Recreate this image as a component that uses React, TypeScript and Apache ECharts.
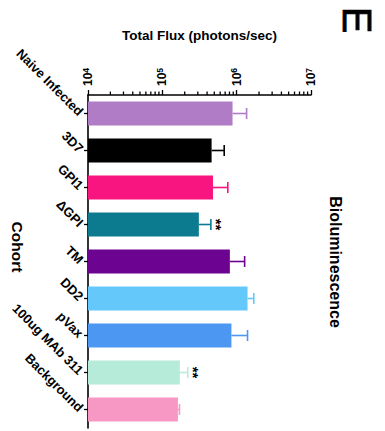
import React, { useEffect, useRef } from "react";
import * as echarts from "echarts";

const categories = [
  "Naive Infected",
  "3D7",
  "GPI1",
  "ΔGPI",
  "TM",
  "DD2",
  "pVax",
  "100ug MAb 311",
  "Background",
];
const meanFlux = [8.8e5, 4.6e5, 4.8e5, 3.1e5, 8.1e5, 1.4e6, 8.5e5, 1.72e5, 1.62e5];
const upperFlux = [1.36e6, 6.8e5, 7.6e5, 4.5e5, 1.28e6, 1.7e6, 1.4e6, 2.2e5, 1.7e5];
const significance = ["", "", "", "**", "", "", "", "**", ""];
const barColors = [
  "#B07CC6",
  "#000000",
  "#F8157F",
  "#0C7B8F",
  "#6C0391",
  "#64C8FB",
  "#4B97F2",
  "#B6EAD9",
  "#F798C4",
];
const minorTickValues = [
  2e4, 3e4, 4e4, 5e4, 6e4, 7e4, 8e4, 9e4,
  2e5, 3e5, 4e5, 5e5, 6e5, 7e5, 8e5, 9e5,
  2e6, 3e6, 4e6, 5e6, 6e6, 7e6, 8e6, 9e6,
];
const axisTitle = "Total Flux (photons/sec)";
const cohortLabel = "Cohort";
const sideLabel = "Bioluminescence";
const panelLetter = "E";

const FONT = "'Liberation Sans', Arial, Helvetica, sans-serif";

export default function App() {
  const ref = useRef<HTMLDivElement>(null);

  useEffect(() => {
    if (!ref.current) return;
    const chart = echarts.init(ref.current, null, { renderer: "svg" });
    const option: any = {
      animation: false,
      backgroundColor: "#ffffff",
      textStyle: { fontFamily: FONT },
      grid: { left: 88, top: 95, width: 223, height: 333, containLabel: false },
      xAxis: {
        type: "log",
        logBase: 10,
        min: 1e4,
        max: 1e7,
        position: "top",
        name: axisTitle,
        nameLocation: "middle",
        nameGap: 53,
        nameTextStyle: {
          fontFamily: FONT,
          fontWeight: "bold",
          fontSize: 13.5,
          color: "#000",
        },
        axisLine: { show: true, lineStyle: { color: "#000", width: 1.6 } },
        axisTick: { show: true, length: 5, lineStyle: { color: "#000", width: 1.3 } },
        minorTick: { show: false },
        splitLine: { show: false },
        axisLabel: {
          rotate: -90,
          margin: 9,
          color: "#000",
          formatter: (v: number) => `{b|10}{s|${Math.round(Math.log10(v))}}`,
          rich: {
            b: { fontFamily: FONT, fontSize: 12, fontWeight: "bold", color: "#000" },
            s: {
              fontFamily: FONT,
              fontSize: 8.5,
              fontWeight: "bold",
              color: "#000",
              verticalAlign: "top",
              padding: [0, 0, 5, 0],
            },
          },
        },
      },
      yAxis: {
        type: "category",
        data: categories,
        inverse: true,
        axisLine: { show: true, lineStyle: { color: "#000", width: 1.6 } },
        axisTick: { show: true, alignWithLabel: true, length: 4, lineStyle: { color: "#000", width: 1.3 } },
        splitLine: { show: false },
        axisLabel: {
          rotate: -45,
          margin: 7,
          fontFamily: FONT,
          fontSize: 13,
          fontWeight: "bold",
          color: "#000",
          interval: 0,
        },
      },
      series: [
        {
          type: "bar",
          data: meanFlux.map((v, i) => ({ value: v, itemStyle: { color: barColors[i] } })),
          barCategoryGap: "35%",
          silent: true,
          z: 2,
        },
        {
          type: "custom",
          coordinateSystem: "cartesian2d",
          silent: true,
          z: 3,
          clip: false,
          encode: { x: 0, y: 1 },
          data: upperFlux.map((u, i) => [u, i, meanFlux[i]]),
          renderItem: (params: any, api: any) => {
            const idx = params.dataIndex;
            const end = api.coord([api.value(0), idx]);
            const start = api.coord([api.value(2), idx]);
            const color = barColors[idx];
            const children: any[] = [
              {
                type: "line",
                shape: { x1: start[0], y1: start[1], x2: end[0], y2: end[1] },
                style: { stroke: color, lineWidth: 1.6 },
              },
              {
                type: "line",
                shape: { x1: end[0], y1: end[1] - 5.5, x2: end[0], y2: end[1] + 5.5 },
                style: { stroke: color, lineWidth: 1.6 },
              },
            ];
            if (significance[idx]) {
              children.push({
                type: "text",
                x: end[0] + 6,
                y: end[1],
                rotation: -Math.PI / 2,
                style: {
                  text: significance[idx],
                  fontFamily: FONT,
                  fontSize: 15,
                  fontWeight: "bold",
                  fill: "#000",
                  align: "center",
                  verticalAlign: "middle",
                },
              });
            }
            return { type: "group", children };
          },
        },
        {
          type: "custom",
          coordinateSystem: "cartesian2d",
          silent: true,
          z: 4,
          clip: false,
          encode: { x: 0, y: 1 },
          data: minorTickValues.map((v) => [v, 0]),
          renderItem: (params: any, api: any) => {
            const pt = api.coord([api.value(0), 0]);
            const y0 = params.coordSys.y;
            return {
              type: "line",
              shape: { x1: pt[0], y1: y0, x2: pt[0], y2: y0 - 3.5 },
              style: { stroke: "#000", lineWidth: 1.3 },
            };
          },
        },
      ],
      graphic: [
        {
          type: "text",
          x: 17,
          y: 247,
          rotation: -Math.PI / 2,
          style: {
            text: cohortLabel,
            fontFamily: FONT,
            fontSize: 15.5,
            fontWeight: "bold",
            fill: "#000",
            align: "center",
            verticalAlign: "middle",
          },
        },
        {
          type: "text",
          x: 335.5,
          y: 262,
          rotation: -Math.PI / 2,
          style: {
            text: sideLabel,
            fontFamily: FONT,
            fontSize: 16,
            fontWeight: "bold",
            fill: "#000",
            align: "center",
            verticalAlign: "middle",
          },
        },
        {
          type: "text",
          x: 357,
          y: 20,
          rotation: -Math.PI / 2,
          style: {
            text: panelLetter,
            fontFamily: FONT,
            fontSize: 40,
            fill: "#000",
            stroke: "#000",
            lineWidth: 0.8,
            align: "center",
            verticalAlign: "middle",
          },
        },
      ],
    };
    chart.setOption(option);
    return () => chart.dispose();
  }, []);

  return (
    <div
      ref={ref}
      style={{ position: "fixed", left: 0, top: 0, width: 385, height: 431, background: "#fff" }}
    />
  );
}
